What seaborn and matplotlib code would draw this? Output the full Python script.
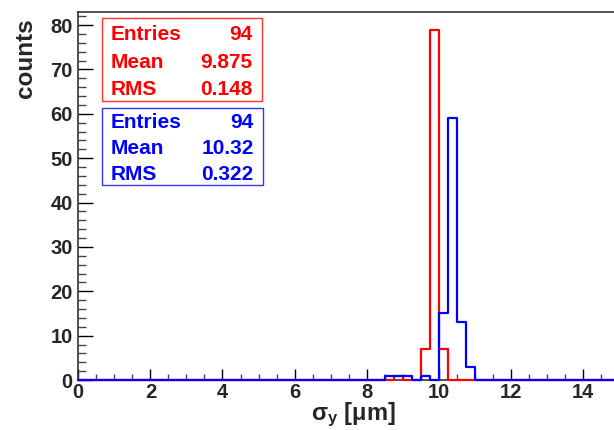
import numpy as np
import pandas as pd
import matplotlib
matplotlib.use("Agg")
import matplotlib.pyplot as plt
from matplotlib.patches import Rectangle
from matplotlib.ticker import MultipleLocator
import seaborn as sns

# ---- data ----
red_bin_low = [8.75, 9.5, 9.75, 10.0]
red_counts = [1, 7, 79, 7]
blue_bin_low = [8.5, 8.75, 9.0, 9.5, 10.0, 10.25, 10.5, 10.75]
blue_counts = [1, 1, 1, 1, 15, 59, 13, 3]
bin_width = 0.25
x_range = (0.0, 15.0)

red_stats = [("Entries", "94"), ("Mean", "9.875"), ("RMS", "0.148")]
blue_stats = [("Entries", "94"), ("Mean", "10.32"), ("RMS", "0.322")]

x_ticks = [0, 2, 4, 6, 8, 10, 12, 14]
y_ticks = [0, 10, 20, 30, 40, 50, 60, 70, 80]

# ---- style ----
sns.set_style("white")
plt.rcParams["font.family"] = ["Liberation Sans", "DejaVu Sans"]
plt.rcParams["font.weight"] = "bold"
plt.rcParams["mathtext.fontset"] = "custom"
plt.rcParams["mathtext.rm"] = "Liberation Sans:bold"
plt.rcParams["mathtext.it"] = "Liberation Sans:bold"
plt.rcParams["mathtext.bf"] = "Liberation Sans:bold"

W, H = 614, 430
fig = plt.figure(figsize=(W / 100, H / 100), dpi=100)
ax_l, ax_r, ax_t, ax_b = 78.3, 619.0, 12.0, 380.0
ax = fig.add_axes([ax_l / W, (H - ax_b) / H, (ax_r - ax_l) / W, (ax_b - ax_t) / H])

red_df = pd.DataFrame({"x": np.array(red_bin_low) + bin_width / 2, "w": red_counts})
blue_df = pd.DataFrame({"x": np.array(blue_bin_low) + bin_width / 2, "w": blue_counts})

sns.histplot(data=red_df, x="x", weights="w", binwidth=bin_width, binrange=x_range,
             element="step", fill=False, color="#ff0000", linewidth=1.6, ax=ax,
             zorder=3, clip_on=False)
sns.histplot(data=blue_df, x="x", weights="w", binwidth=bin_width, binrange=x_range,
             element="step", fill=False, color="#0000ff", linewidth=1.6, ax=ax,
             zorder=4, clip_on=False)

ax.set_xlim(*x_range)
ax.set_ylim(0, max(red_counts) * 1.05)

ax.set_xticks(x_ticks)
ax.set_yticks(y_ticks)
ax.xaxis.set_minor_locator(MultipleLocator(0.5))
ax.yaxis.set_minor_locator(MultipleLocator(2))
ax.tick_params(axis="x", which="major", direction="in", length=8, width=1, color="black",
               labelsize=14.5, pad=2.0, bottom=True, top=False)
ax.tick_params(axis="x", which="minor", direction="in", length=4.3, width=1, color="#444444",
               bottom=True, top=False)
ax.tick_params(axis="y", which="major", direction="in", length=10.8, width=1, color="black",
               labelsize=14.5, pad=4, left=True, right=False)
ax.tick_params(axis="y", which="minor", direction="in", length=5.5, width=1, color="#444444",
               left=True, right=False)
for lab in ax.get_xticklabels() + ax.get_yticklabels():
    lab.set_fontweight("bold")

for s in ["left", "bottom", "top", "right"]:
    ax.spines[s].set_color("#333333")
    ax.spines[s].set_linewidth(1.2)

ax.set_xlabel("σ$_{\\mathrm{y}}$ [μm]", fontsize=17, fontweight="bold")
ax.xaxis.set_label_coords((353 - ax_l) / (ax_r - ax_l), (ax_b - 401) / (ax_b - ax_t))
ax.xaxis.label.set_va("top")
ax.set_ylabel("counts", fontsize=17.5, fontweight="bold", loc="top")
ax.yaxis.set_label_coords((37 - ax_l) / (ax_r - ax_l), (ax_b - 18) / (ax_b - ax_t))


def stats_box(y_top_px, y_bot_px, x_left_px, x_right_px, rows_px, stats, edge, color):
    def fx(px):
        return (px - ax_l) / (ax_r - ax_l)

    def fy(py):
        return (ax_b - py) / (ax_b - ax_t)

    ax.add_patch(Rectangle((fx(x_left_px), fy(y_bot_px)), fx(x_right_px) - fx(x_left_px),
                           fy(y_top_px) - fy(y_bot_px), transform=ax.transAxes,
                           facecolor="white", edgecolor=edge, linewidth=1.0, zorder=5))
    for (name, val), py in zip(stats, rows_px):
        ax.text(fx(x_left_px + 8.5), fy(py), name, transform=ax.transAxes, ha="left",
                va="center_baseline", color=color, fontsize=15, fontweight="bold", zorder=6)
        ax.text(fx(x_right_px - 9), fy(py), val, transform=ax.transAxes, ha="right",
                va="center_baseline", color=color, fontsize=15, fontweight="bold", zorder=6)


stats_box(18.3, 100.7, 101.7, 261.7, [32.7, 60.0, 87.3], red_stats, "#ff3333", "#ff0000")
stats_box(107.7, 185.0, 101.7, 262.7, [121.0, 146.5, 172.0], blue_stats, "#3333ff", "#0000ff")

fig.savefig("out.png", dpi=100)
